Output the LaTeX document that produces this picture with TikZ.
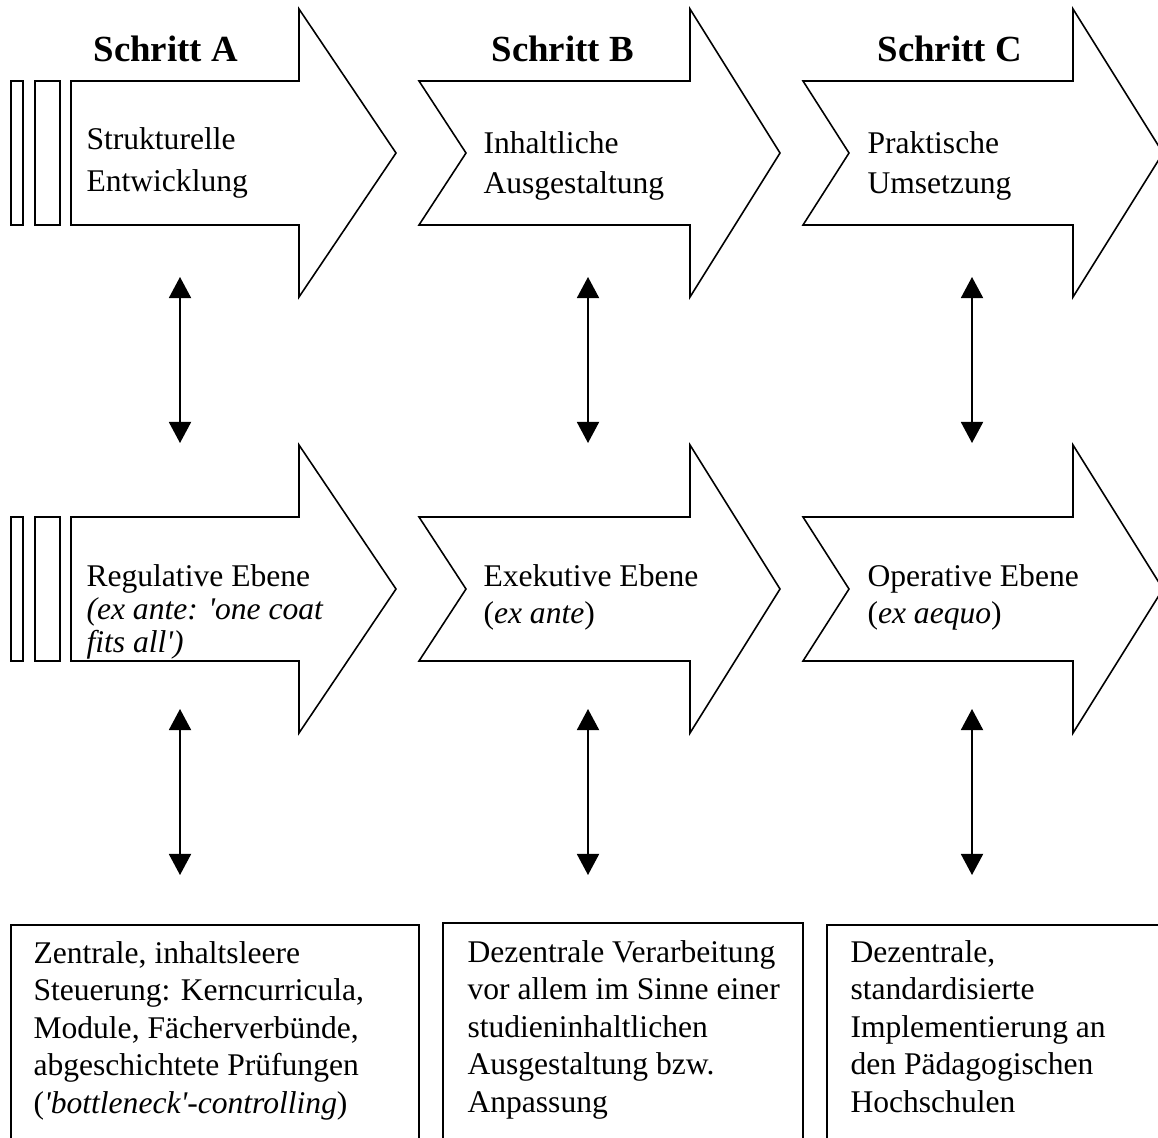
\documentclass[tikz,border=0pt]{standalone}
\usepackage{fontspec}
\setmainfont{Liberation Serif}
\usetikzlibrary{arrows.meta}

\begin{document}
\begin{tikzpicture}[x=0.38pt, y=-0.38pt,
    stepline/.style={draw, line width=0.6pt, line join=miter},
    dbl/.style={{Triangle[width=8.4pt,length=8pt]}-{Triangle[width=8.4pt,length=8pt]}, line width=0.6pt},
    steptitle/.style={anchor=base west, inner sep=0pt, font=\fontsize{14}{16}\selectfont\bfseries},
    txt/.style={anchor=base west, inner sep=0pt, align=left}]
  \clip (0,0) rectangle (1158,1137);

  % Step arrows, upper row and lower row
  \foreach \dy in {0,436} {
    % A: flat tail with two bars
    \draw[stepline] (11,81+\dy) rectangle (23,225+\dy);
    \draw[stepline] (35,81+\dy) rectangle (60,225+\dy);
    \draw[stepline] (71,81+\dy) -- (299,81+\dy) -- (299,9+\dy) -- (396,153+\dy)
      -- (299,297+\dy) -- (299,225+\dy) -- (71,225+\dy) -- cycle;
    % B: notched tail
    \draw[stepline] (419,81+\dy) -- (690,81+\dy) -- (690,9+\dy) -- (780,153+\dy)
      -- (690,297+\dy) -- (690,225+\dy) -- (419,225+\dy) -- (466,153+\dy) -- cycle;
    % C: notched tail
    \draw[stepline] (803,81+\dy) -- (1073,81+\dy) -- (1073,9+\dy) -- (1163,153+\dy)
      -- (1073,297+\dy) -- (1073,225+\dy) -- (803,225+\dy) -- (849,153+\dy) -- cycle;
  }

  % Titles
  \node[steptitle] (tA) at (93,62) {Schritt A};
  \node[steptitle] (tB) at (491,62) {Schritt B};
  \node[steptitle] (tC) at (877,62) {Schritt C};

  % Upper row texts (placed at the baseline of the last line)
  \node[txt, font=\fontsize{12}{16.3}\selectfont] (sA) at (86,192) {Strukturelle\\Entwicklung};
  \node[txt, font=\fontsize{12}{15.2}\selectfont] (sB) at (483,193) {Inhaltliche\\Ausgestaltung};
  \node[txt, font=\fontsize{12}{15}\selectfont] (sC) at (867,193) {Praktische\\Umsetzung};

  % Lower row texts
  \node[txt, font=\fontsize{12}{12.4}\selectfont] (eA) at (86,652)
    {Regulative Ebene\\\textit{(ex ante: \textquotesingle one coat}\\\textit{fits all\textquotesingle)}};
  \node[txt, font=\fontsize{12}{13.7}\selectfont] (eB) at (483,623)
    {Exekutive Ebene\\(\textit{ex ante})};
  \node[txt, font=\fontsize{12}{13.7}\selectfont] (eC) at (867,623)
    {Operative Ebene\\(\textit{ex aequo})};

  % Double arrows between rows
  \foreach \x/\n in {180/a,588/b,972/c} {
    \coordinate (\n1) at (\x,277);
    \coordinate (\n2) at (\x,443);
    \coordinate (\n3) at (\x,709);
    \coordinate (\n4) at (\x,875);
    \draw[dbl] (\n1) -- (\n2);
    \draw[dbl] (\n3) -- (\n4);
  }

  % Bottom boxes (cut off at the lower edge)
  \draw[stepline] (11,925) rectangle (419,1160);
  \draw[stepline] (443,923) rectangle (803,1160);
  \draw[stepline] (827,925) rectangle (1180,1160);

  \node[txt, font=\fontsize{12}{14.25}\selectfont] (bA) at (33,1113)
    {Zentrale, inhaltsleere\\Steuerung: Kerncurricula,\\Module, Fächerverbünde,\\abgeschichtete Prüfungen\\(\textit{\textquotesingle bottleneck\textquotesingle-controlling})};
  \node[txt, font=\fontsize{12}{14.25}\selectfont] (bB) at (467,1112)
    {Dezentrale Verarbeitung\\vor allem im Sinne einer\\studieninhaltlichen\\Ausgestaltung bzw.\\Anpassung};
  \node[txt, font=\fontsize{12}{14.25}\selectfont] (bC) at (850,1112)
    {Dezentrale,\\standardisierte\\Implementierung an\\den Pädagogischen\\Hochschulen};
\end{tikzpicture}
\end{document}
